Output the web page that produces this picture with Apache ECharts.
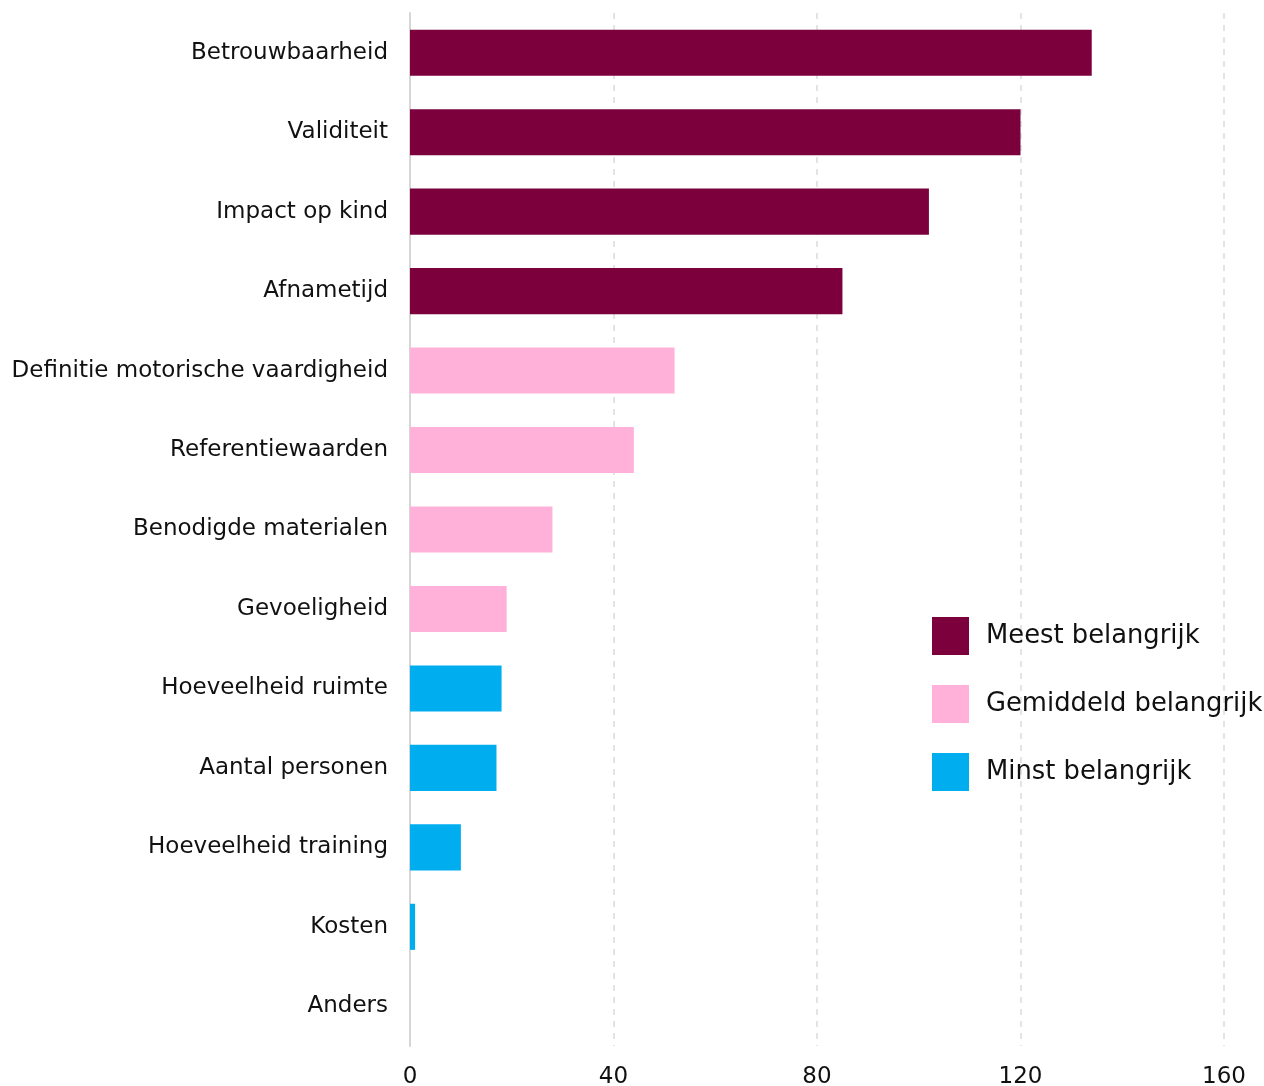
<!DOCTYPE html>
<html>
<head>
<meta charset="utf-8">
<script src="https://cdn.jsdelivr.net/npm/echarts@6/dist/echarts.min.js"></script>
<style>html,body{margin:0;padding:0;background:#fff}#c{width:1264px;height:1086px}</style>
</head>
<body>
<div id="c"></div>
<script>
const categories = ["Betrouwbaarheid","Validiteit","Impact op kind","Afnametijd","Definitie motorische vaardigheid","Referentiewaarden","Benodigde materialen","Gevoeligheid","Hoeveelheid ruimte","Aantal personen","Hoeveelheid training","Kosten","Anders"];
const meestBelangrijk = [134,120,102,85,'-','-','-','-','-','-','-','-','-'];
const gemiddeldBelangrijk = ['-','-','-','-',52,44,28,19,'-','-','-','-','-'];
const minstBelangrijk = ['-','-','-','-','-','-','-','-',18,17,10,1,0];
const seriesNames = ["Meest belangrijk","Gemiddeld belangrijk","Minst belangrijk"];
const xTicks = [0,40,80,120,160];

const font = 'DejaVu Sans';
const chart = echarts.init(document.getElementById('c'));
const colors = ['#7B003C','#FFB1D9','#00ADEF'];
const dataSets = [meestBelangrijk, gemiddeldBelangrijk, minstBelangrijk];
chart.setOption({
  animation:false,
  grid:{left:410,right:40,top:13,bottom:40,containLabel:false,outerBoundsMode:'none'},
  legend:{
    orient:'vertical', left:932, top:617, padding:0,
    itemWidth:37, itemHeight:38, itemGap:30,
    icon:'rect',
    textStyle:{fontFamily:font,fontSize:25.8,color:'#111',padding:[2,0,0,12]},
    data:seriesNames
  },
  xAxis:{
    type:'value', min:xTicks[0], max:xTicks[xTicks.length-1], interval:40,
    axisLine:{show:false}, axisTick:{show:false},
    axisLabel:{fontFamily:font,fontSize:23,color:'#111',margin:20},
    splitLine:{show:true,lineStyle:{type:[6,6],color:'#dcdcdc',width:1.5}}
  },
  yAxis:{
    type:'category', data:categories, inverse:true,
    axisLine:{show:true,lineStyle:{color:'#d6d6d6',width:2}},
    axisTick:{show:false},
    axisLabel:{fontFamily:font,fontSize:23,color:'#111',margin:22,padding:[5,0,0,0]}
  },
  series: seriesNames.map((n,i)=>({
    name:n, type:'bar', stack:'s', data:dataSets[i],
    barCategoryGap:'42%', itemStyle:{color:colors[i]}
  }))
});
</script>
</body>
</html>
